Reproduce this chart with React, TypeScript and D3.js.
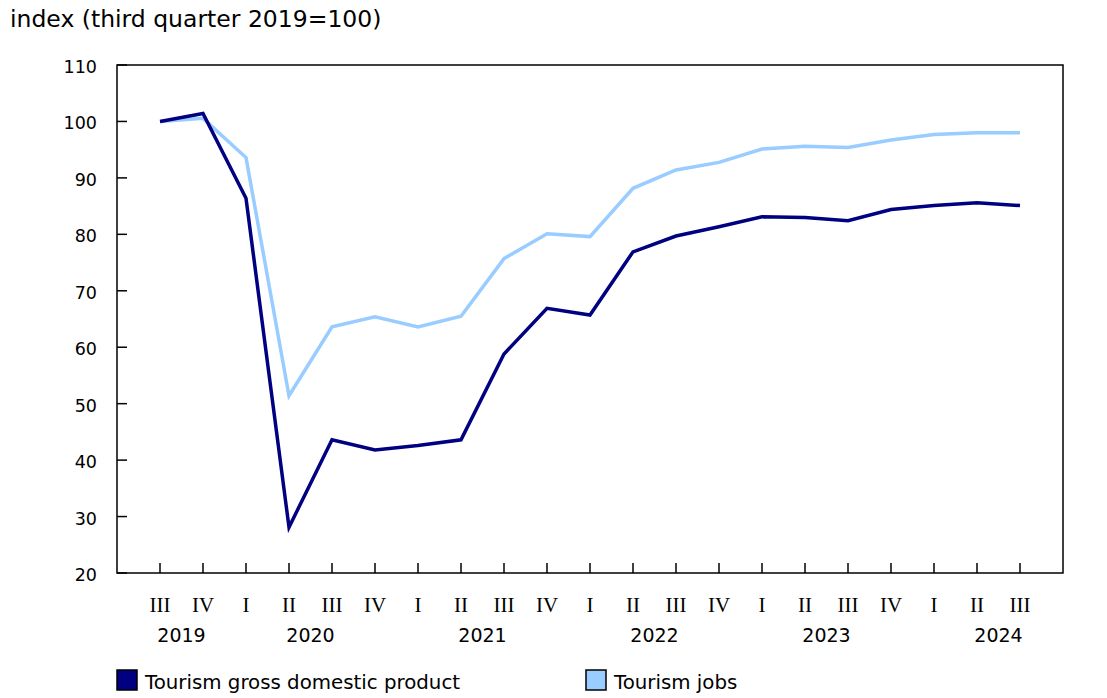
import React from "react";
import * as d3 from "d3";

const quarters = ["III","IV","I","II","III","IV","I","II","III","IV","I","II","III","IV","I","II","III","IV","I","II","III"];
const years = ["2019","2019","2020","2020","2020","2020","2021","2021","2021","2021","2022","2022","2022","2022","2023","2023","2023","2023","2024","2024","2024"];
const gdp = [100,101.4,86.4,28.1,43.6,41.8,42.6,43.6,58.8,66.9,65.7,76.9,79.7,81.35,83.1,83.0,82.4,84.4,85.1,85.6,85.1];
const jobs = [100,100.55,93.6,51.4,63.6,65.4,63.6,65.5,75.7,80.1,79.6,88.15,91.4,92.75,95.1,95.6,95.4,96.7,97.7,98.0,98.0];
const yTicks = [20,30,40,50,60,70,80,90,100,110];
const seriesNames = ["Tourism gross domestic product","Tourism jobs"];
const colors = ["#000080","#99ccff"];

const W = 1107, H = 698;
const L = 117, R = 1063, T = 65, B = 573;
const SANS = "Verdana, 'DejaVu Sans', sans-serif";
const SERIF = "'Liberation Serif', 'Times New Roman', serif";

export default function App() {
  const keys = quarters.map((q, i) => `${years[i]}-${q}-${i}`);
  const x = d3.scalePoint<string>().domain(keys).range([L, R]).padding(1);
  const y = d3.scaleLinear().domain([20, 110]).range([B, T]);
  const line = d3.line<number>().x((_, i) => x(keys[i])!).y(d => y(d));

  const yearList = Array.from(new Set(years));
  const yearPos = yearList.map(yr => {
    const idx = years.map((v, i) => (v === yr ? i : -1)).filter(i => i >= 0);
    const i2 = idx.find(i => quarters[i] === "II");
    const i3 = idx.find(i => quarters[i] === "III");
    let px;
    if (i2 !== undefined && i3 !== undefined) px = (x(keys[i2])! + x(keys[i3])!) / 2;
    else px = (x(keys[idx[0]])! + x(keys[idx[idx.length - 1]])!) / 2;
    return { yr, px };
  });

  return (
    <svg width={W} height={H} style={{ position: "absolute", left: 0, top: 0, background: "#fff" }}>
      <text x={10} y={27} fontFamily={SANS} fontSize={23.5} fill="#000">index (third quarter 2019=100)</text>
      {yTicks.map(t => (
        <g key={t}>
          <line x1={L} x2={L + 10} y1={y(t)} y2={y(t)} stroke="#000" strokeWidth={1.5} />
          <text x={97} y={y(t) + 3} textAnchor="end" dominantBaseline="middle" fontFamily={SANS} fontSize={17.5} fill="#000">{t}</text>
        </g>
      ))}
      {keys.map((k, i) => (
        <g key={k}>
          <line x1={x(k)!} x2={x(k)!} y1={B} y2={B - 10} stroke="#000" strokeWidth={1.5} />
          <text x={x(k)!} y={612} textAnchor="middle" fontFamily={SERIF} fontSize={21} fill="#000">{quarters[i]}</text>
        </g>
      ))}
      {yearPos.map(d => (
        <text key={d.yr} x={d.px} y={641.5} textAnchor="middle" fontFamily={SANS} fontSize={19} fill="#000">{d.yr}</text>
      ))}
      <rect x={L} y={T} width={R - L} height={B - T} fill="none" stroke="#000" strokeWidth={1.5} />
      <path d={line(jobs)!} fill="none" stroke={colors[1]} strokeWidth={3.5} strokeLinejoin="miter" />
      <path d={line(gdp)!} fill="none" stroke={colors[0]} strokeWidth={3.5} strokeLinejoin="miter" />
      {seriesNames.map((n, i) => {
        const lx = i === 0 ? 117 : 586;
        return (
          <g key={n}>
            <rect x={lx} y={670} width={20} height={20} fill={colors[i]} stroke="#000" strokeWidth={1.5} />
            <text x={lx + 28} y={688.5} fontFamily={SANS} fontSize={19.8} fill="#000">{n}</text>
          </g>
        );
      })}
    </svg>
  );
}
